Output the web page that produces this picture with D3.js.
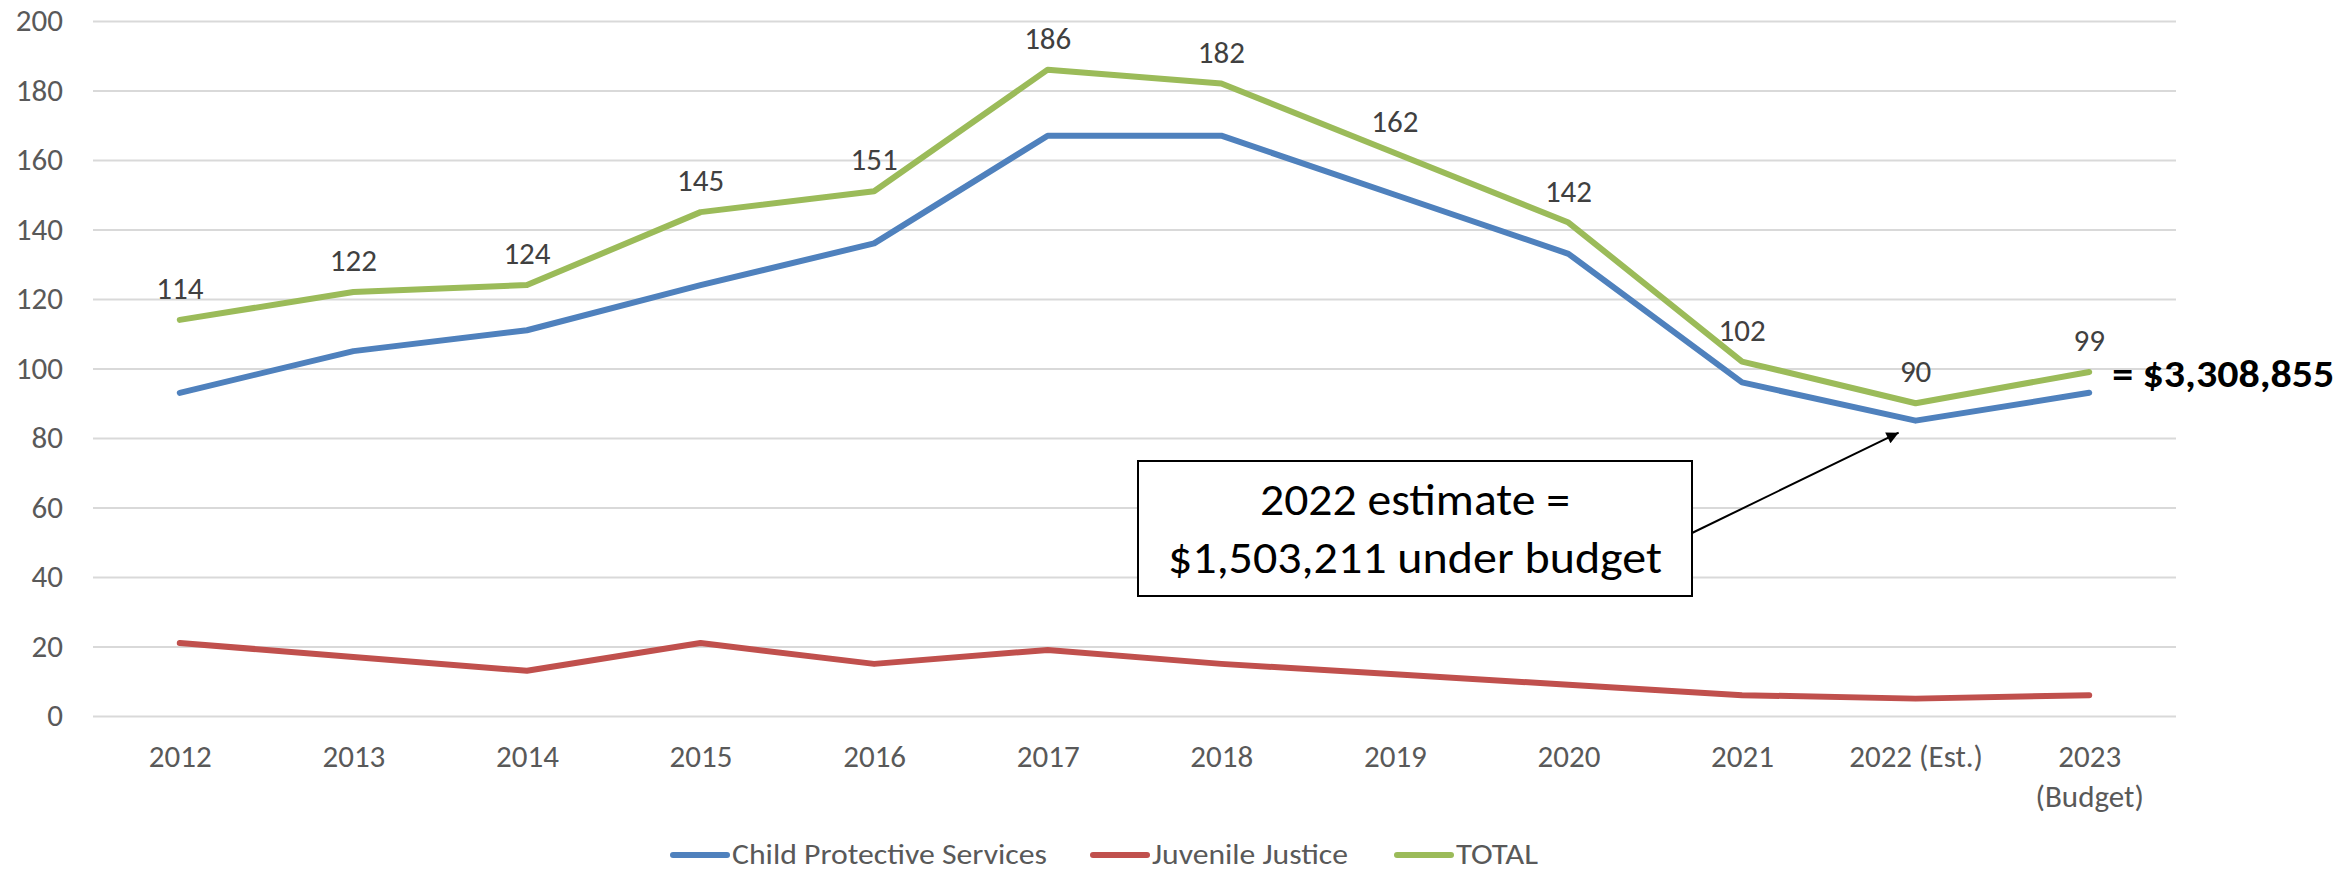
<!DOCTYPE html>
<html>
<head>
<meta charset="utf-8">
<script src="https://cdn.jsdelivr.net/npm/d3@7"></script>
<style>
  body { margin: 0; background: #fff; }
</style>
</head>
<body>
<div id="chart"></div>
<script>
// categories and series
const years = ["2012", "2013", "2014", "2015", "2016", "2017", "2018", "2019", "2020", "2021", "2022 (Est.)", "2023 (Budget)"];
const cps = [93, 105, 111, 124, 136, 167, 167, 150, 133, 96, 85, 93];
const juvenile = [21, 17, 13, 21, 15, 19, 15, 12, 9, 6, 5, 6];
const total = [114, 122, 124, 145, 151, 186, 182, 162, 142, 102, 90, 99];
const yTicks = [0, 20, 40, 60, 80, 100, 120, 140, 160, 180, 200];

const seriesNames = ["Child Protective Services", "Juvenile Justice", "TOTAL"];
const seriesValues = [cps, juvenile, total];
const seriesColors = ["#4F81BD", "#C0504D", "#9BBB59"];

const noteLines = ["2022 estimate =", "$1,503,211 under budget"];
const budgetNote = "= $3,308,855";

const W = 2351, H = 874;
const plotL = 93, plotR = 2176, plotT = 21, plotB = 716;
const font = "Carlito, Lato, 'Open Sans', sans-serif";
const grey = "#595959";

const svg = d3.select("#chart").append("svg")
    .attr("width", W)
    .attr("height", H)
    .style("font-family", font);

const x = d3.scalePoint()
    .domain(years)
    .range([plotL, plotR])
    .padding(0.5);

const y = d3.scaleLinear()
    .domain([0, 200])
    .range([plotB, plotT]);

// gridlines + y labels
const yAxis = svg.append("g")
    .attr("transform", `translate(${plotL},0)`)
    .call(d3.axisLeft(y).tickValues(yTicks).tickSize(-(plotR - plotL)).tickPadding(30))
    .attr("font-family", font)
    .attr("font-size", 31);
yAxis.select(".domain").remove();
yAxis.selectAll(".tick line").attr("stroke", "#D9D9D9").attr("stroke-width", 2);
yAxis.selectAll(".tick text").attr("fill", grey);

// x labels, wrapped when wider than the band
const xAxis = svg.append("g")
    .attr("transform", `translate(0,${plotB})`)
    .call(d3.axisBottom(x).tickSize(0).tickPadding(29))
    .attr("font-family", font)
    .attr("font-size", 31);
xAxis.select(".domain").remove();
xAxis.selectAll(".tick text")
    .attr("fill", grey)
    .each(function(d) {
        const t = d3.select(this);
        if (this.getComputedTextLength() > x.step() * 0.85) {
            const words = d.split(" ");
            t.text(null);
            words.forEach((w, i) => {
                t.append("tspan")
                    .attr("x", 0)
                    .attr("dy", i === 0 ? "0.71em" : "1.28em")
                    .text(w);
            });
            t.attr("dy", null);
        }
    });

// lines
const line = d3.line()
    .x((d, i) => x(years[i]))
    .y(d => y(d));

svg.append("g")
    .selectAll("path")
    .data(seriesValues)
    .enter().append("path")
    .attr("d", d => line(d))
    .attr("fill", "none")
    .attr("stroke", (d, i) => seriesColors[i])
    .attr("stroke-width", 6)
    .attr("stroke-linejoin", "round")
    .attr("stroke-linecap", "round");

// data labels on TOTAL
svg.append("g")
    .selectAll("text")
    .data(total)
    .enter().append("text")
    .attr("x", (d, i) => x(years[i]))
    .attr("y", d => y(d) - 21)
    .attr("text-anchor", "middle")
    .attr("fill", "#404040")
    .style("font-size", "31px")
    .text(d => d);

// budget total label
const last = years.length - 1;
svg.append("text")
    .attr("x", x(years[last]) + 23)
    .attr("y", y(total[last]) + 15)
    .attr("fill", "#000")
    .style("font-size", "39px")
    .style("font-weight", "bold")
    .attr("textLength", 222)
    .attr("lengthAdjust", "spacingAndGlyphs")
    .text(budgetNote);

// annotation box with arrow to the 2022 point
const est = years.length - 2;
const boxX = 1138, boxY = 461, boxW = 554, boxH = 135;

svg.append("defs").append("marker")
    .attr("id", "arrow")
    .attr("viewBox", "0 0 10 10")
    .attr("refX", 10)
    .attr("refY", 5)
    .attr("markerWidth", 8)
    .attr("markerHeight", 6)
    .attr("orient", "auto")
    .append("path")
    .attr("d", "M0,0 L10,5 L0,10 Z")
    .attr("fill", "#000");

svg.append("line")
    .attr("x1", boxX + boxW)
    .attr("y1", boxY + 72)
    .attr("x2", x(years[est]) - 17)
    .attr("y2", y(cps[est]) + 12)
    .attr("stroke", "#000")
    .attr("stroke-width", 2)
    .attr("marker-end", "url(#arrow)");

svg.append("rect")
    .attr("x", boxX)
    .attr("y", boxY)
    .attr("width", boxW)
    .attr("height", boxH)
    .attr("fill", "#fff")
    .attr("stroke", "#000")
    .attr("stroke-width", 2);

const noteWidths = [310, 494];
svg.append("g")
    .selectAll("text")
    .data(noteLines)
    .enter().append("text")
    .attr("x", (d, i) => boxX + boxW / 2 - noteWidths[i] / 2)
    .attr("y", (d, i) => boxY + 54 + i * 58)
    .attr("fill", "#000")
    .style("font-size", "46px")
    .attr("textLength", (d, i) => noteWidths[i])
    .attr("lengthAdjust", "spacingAndGlyphs")
    .text(d => d);

// legend
const legendX = [673, 1093, 1397];
const legendW = [315, 196, 82];
const legend = svg.append("g")
    .selectAll("g")
    .data(seriesNames)
    .enter().append("g")
    .attr("transform", (d, i) => `translate(${legendX[i]},855)`);

legend.append("line")
    .attr("x1", 0).attr("x2", 54)
    .attr("y1", 0).attr("y2", 0)
    .attr("stroke", (d, i) => seriesColors[i])
    .attr("stroke-width", 6)
    .attr("stroke-linecap", "round");

legend.append("text")
    .attr("x", 59)
    .attr("y", 9)
    .attr("fill", grey)
    .style("font-size", "28px")
    .attr("textLength", (d, i) => legendW[i])
    .attr("lengthAdjust", "spacingAndGlyphs")
    .text(d => d);
</script>
</body>
</html>
